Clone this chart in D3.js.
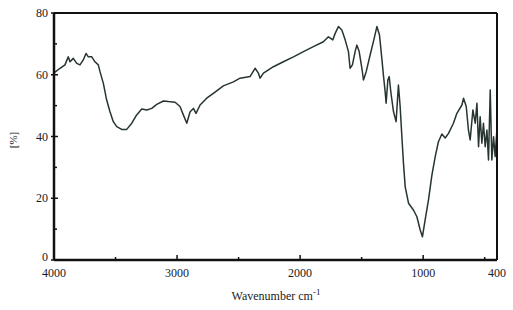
<!DOCTYPE html>
<html><head><meta charset="utf-8">
<script src="https://cdn.jsdelivr.net/npm/d3@7"></script>
<style>body{margin:0;background:#fff}svg{display:block}text{font-family:"Liberation Serif","Times New Roman",serif;fill:#1b1b26}</style>
</head><body><svg id="c" width="513" height="310"></svg>
<script>
const wavenumber = [4000,3951,3911,3884,3870,3843,3815,3789,3762,3740,3721,3693,3667,3640,3626,3599,3572,3545,3518,3490,3450,3409,3368,3328,3287,3246,3206,3165,3111,3071,3016,2976,2949,2921,2894,2867,2846,2813,2759,2705,2624,2542,2488,2407,2366,2339,2325,2298,2217,2136,2054,1973,1892,1811,1770,1734,1715,1689,1661,1634,1607,1594,1575,1553,1539,1520,1498,1485,1463,1431,1398,1376,1355,1336,1323,1309,1301,1287,1276,1263,1241,1220,1201,1187,1173,1160,1146,1119,1079,1051,1024,1006,984,957,929,902,876,848,821,794,754,726,685,672,650,632,618,596,577,563,550,537,523,510,496,482,469,455,442,428,415,401];
const transmittance = [60.6,62.1,63.2,65.8,64.2,65.3,63.7,63.2,64.8,66.9,65.8,65.8,64.2,63.2,61.0,57.2,51.8,48.0,44.8,43.2,42.3,42.3,44.3,47.0,48.9,48.6,49.1,50.4,51.5,51.3,51.1,49.7,47.0,44.3,48.0,49.1,47.5,50.2,52.4,54.0,56.4,57.7,58.9,59.4,62.1,60.5,58.9,60.5,62.6,64.2,65.8,67.5,69.1,70.7,72.3,71.3,73.4,75.6,74.5,71.3,67.5,62.1,63.2,67.5,69.6,67.5,62.1,58.3,61.0,66.4,71.8,75.6,72.9,65.3,59.9,54.5,50.8,58.3,59.4,54.5,48.0,44.8,56.7,49.7,39.9,31.3,23.7,18.4,16.2,14.0,9.7,7.5,13.0,19.4,27.5,33.5,38.3,40.8,39.5,41.0,44.3,47.5,50.2,52.4,49.7,42.1,38.9,48.6,44.3,50.8,36.7,46.4,37.8,44.3,36.7,42.1,32.4,55.1,32.4,39.9,33.5,42.1];
const xTickLabels = [4000,3000,2000,1000,400];
const xMinorTicks = [3500,2500,1500,500];
const yTickLabels = [0,20,40,60,80];
const yMinorTicks = [10,30,50,70];

const svg = d3.select("#c");
const L=54, R=497, T=13, B=260;
const x = d3.scaleLinear().domain([4000,400]).range([L,R]);
const y = d3.scaleLinear().domain([0,80]).range([B,T]);

// spectrum
const line = d3.line().x((d,i)=>x(wavenumber[i])).y((d,i)=>y(transmittance[i])).curve(d3.curveLinear);
svg.append("path").datum(transmittance).attr("d",line)
  .attr("fill","none").attr("stroke","#26352f").attr("stroke-width",1.5).attr("stroke-linejoin","round");

// frame
svg.append("line").attr("x1",L).attr("x2",R).attr("y1",T).attr("y2",T).attr("stroke","#111").attr("stroke-width",2);
svg.append("line").attr("x1",R).attr("x2",R).attr("y1",T).attr("y2",B).attr("stroke","#111").attr("stroke-width",2);
svg.append("line").attr("x1",L).attr("x2",R).attr("y1",B).attr("y2",B).attr("stroke","#111").attr("stroke-width",2.5);
svg.append("line").attr("x1",L).attr("x2",L).attr("y1",T).attr("y2",B).attr("stroke","#111").attr("stroke-width",2.5);

// x ticks
const xMajorTicks = [4000,3000,2000,1000];
svg.selectAll(".xt").data(xMajorTicks).enter().append("line")
  .attr("x1",d=>x(d)).attr("x2",d=>x(d)).attr("y1",B).attr("y2",B-5).attr("stroke","#111").attr("stroke-width",1.5);
svg.selectAll(".xm").data(xMinorTicks).enter().append("line")
  .attr("x1",d=>x(d)).attr("x2",d=>x(d)).attr("y1",B).attr("y2",B-3).attr("stroke","#111").attr("stroke-width",1.5);
svg.selectAll(".xl").data(xTickLabels).enter().append("text")
  .attr("x",d=>x(d)).attr("y",B+17).attr("text-anchor","middle").attr("font-size",12).text(d=>d);

// y ticks
svg.selectAll(".yt").data(yTickLabels).enter().append("line")
  .attr("x1",L-3).attr("x2",L+4).attr("y1",d=>y(d)).attr("y2",d=>y(d)).attr("stroke","#111").attr("stroke-width",1.5);
svg.selectAll(".ym").data(yMinorTicks).enter().append("line")
  .attr("x1",L).attr("x2",L+3).attr("y1",d=>y(d)).attr("y2",d=>y(d)).attr("stroke","#111").attr("stroke-width",1.5);
svg.selectAll(".yl").data(yTickLabels).enter().append("text")
  .attr("x",L-6).attr("y",d=>y(d)+(d===0?1:4)).attr("text-anchor","end").attr("font-size",12).text(d=>d);

// axis titles
const xt = svg.append("text").attr("x",276).attr("y",300).attr("text-anchor","middle").attr("font-size",12);
xt.append("tspan").text("Wavenumber cm");
xt.append("tspan").attr("dy",-5).attr("font-size",9).text("-1");
svg.append("text").attr("transform","translate(17,140) rotate(-90)").attr("text-anchor","middle")
  .attr("font-size",11).text("[%]");
</script></body></html>
